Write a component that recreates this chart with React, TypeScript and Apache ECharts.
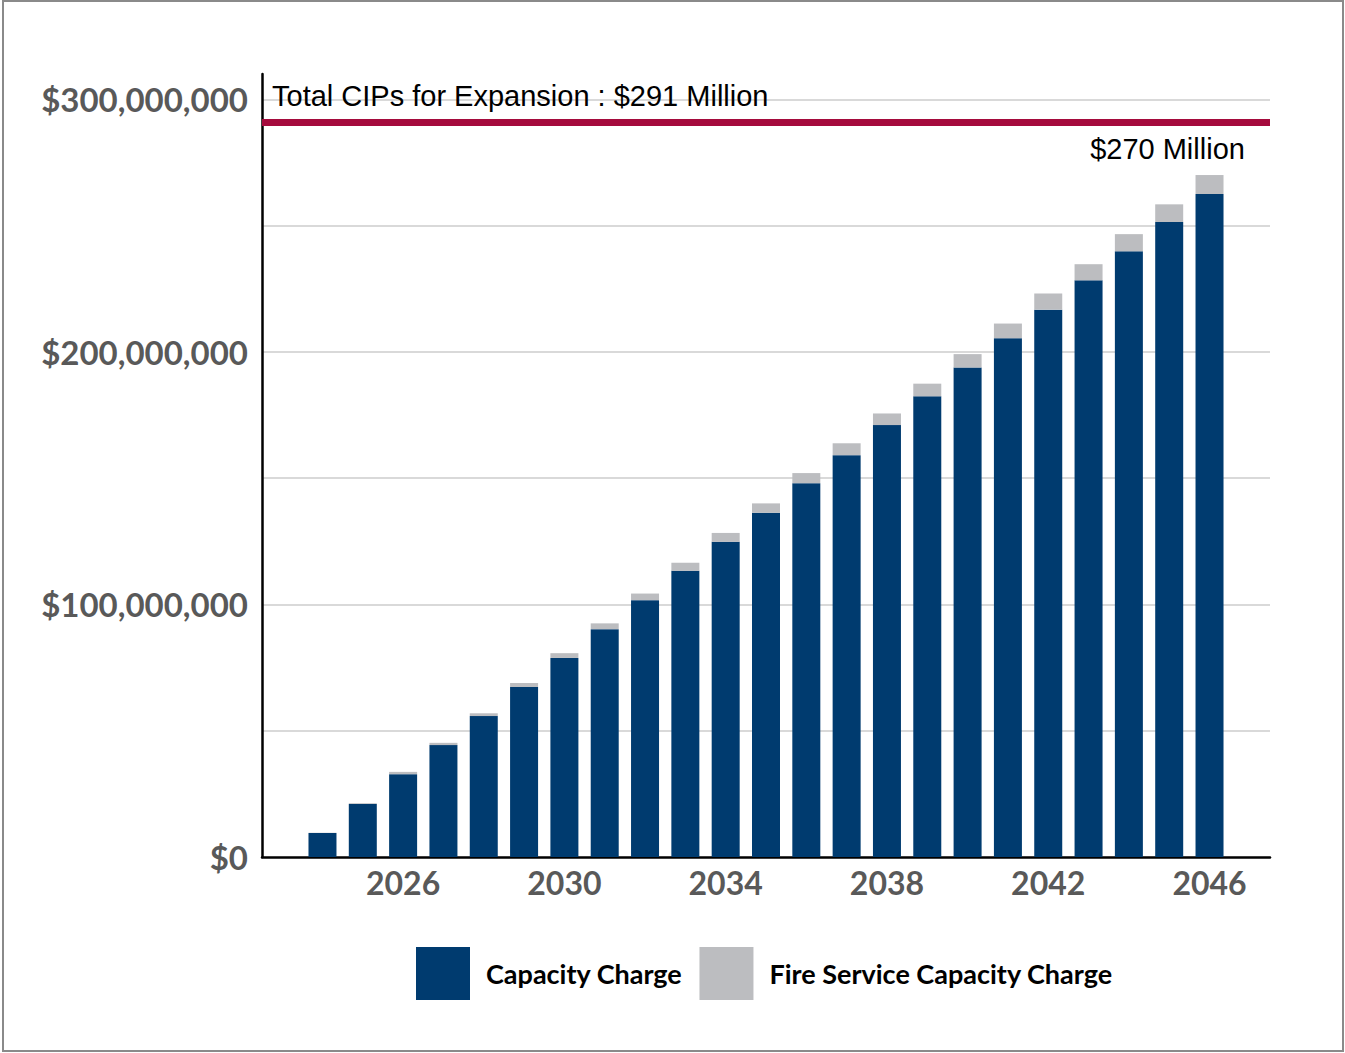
import React, { useEffect, useRef } from "react";
import * as echarts from "echarts";

const years = [
  "2023", "2024", "2025", "2026", "2027", "2028", "2029", "2030", "2031", "2032", "2033", "2034", "2035",
  "2036", "2037", "2038", "2039", "2040", "2041", "2042", "2043", "2044", "2045", "2046", "2047",
];
// values in millions of dollars
const capacityCharge = [
  null, 9.5, 21.0, 32.8, 44.3, 55.8, 67.3, 78.8, 90.2, 101.7, 113.3, 124.8, 136.3,
  148.0, 159.1, 171.0, 182.4, 193.8, 205.4, 216.7, 228.3, 239.8, 251.4, 262.5, null,
];
const fireServiceCharge = [
  null, 0.1, 0.3, 0.9, 0.9, 1.1, 1.6, 1.9, 2.3, 2.6, 3.2, 3.5, 3.7,
  4.0, 4.7, 4.6, 5.0, 5.3, 5.8, 6.4, 6.4, 6.8, 7.0, 7.5, null,
];
const totalCIPs = 291;
const totalCIPsLabel = "Total CIPs for Expansion : $291 Million";
const endLabel = "$270 Million";
const shownYears = ["2026", "2030", "2034", "2038", "2042", "2046"];

function fmtDollars(m: number) {
  const v = Math.round(m * 1e6);
  return "$" + v.toString().replace(/\B(?=(\d{3})+(?!\d))/g, ",");
}

export default function App() {
  const ref = useRef<HTMLDivElement>(null);
  useEffect(() => {
    document.body.style.margin = "0";
    const chart = echarts.init(ref.current!, null, { renderer: "svg" });
    const lastIdx = fireServiceCharge.length - 2;
    chart.setOption({
      animation: false,
      backgroundColor: "#ffffff",
      grid: { left: 262, right: 75, top: 74, bottom: 196, containLabel: false },
      legend: {
        left: 416,
        top: 947,
        padding: 0,
        itemWidth: 54,
        itemHeight: 53,
        itemGap: 17,
        icon: "rect",
        textStyle: {
          fontFamily: "Lato",
          fontWeight: "bold",
          fontSize: 27,
          color: "#000",
          padding: [0, 0, 0, 11],
        },
        data: ["Capacity Charge", "Fire Service Capacity Charge"],
      },
      xAxis: {
        type: "category",
        data: years,
        axisLine: { show: true, lineStyle: { color: "#000", width: 2.5 } },
        axisTick: { show: false },
        axisLabel: {
          interval: 0,
          formatter: (v: string) => (shownYears.includes(v) ? v : ""),
          fontFamily: "Lato",
          fontWeight: "bold",
          fontSize: 32,
          color: "#595959",
          margin: 9,
        },
        splitLine: { show: false },
      },
      yAxis: {
        type: "value",
        min: 0,
        max: 310,
        interval: 50,
        axisLine: { show: true, lineStyle: { color: "#000", width: 2.5 } },
        axisTick: { show: false },
        axisLabel: {
          formatter: (v: number) => (v % 100 === 0 ? fmtDollars(v) : ""),
          fontFamily: "Lato",
          fontWeight: "bold",
          fontSize: 33,
          color: "#595959",
          margin: 14,
        },
        splitLine: {
          show: true,
          showMinLine: false,
          showMaxLine: false,
          lineStyle: { color: "#d9d9d9", width: 2 },
        },
      },
      series: [
        {
          name: "Capacity Charge",
          type: "bar",
          stack: "total",
          barWidth: 28,
          itemStyle: { color: "#003b6f" },
          data: capacityCharge,
          markLine: {
            silent: true,
            symbol: ["none", "none"],
            z: 10,
            data: [
              {
                yAxis: totalCIPs,
                lineStyle: { color: "#a50b3d", width: 7, type: "solid" },
                label: {
                  show: true,
                  position: "insideStartTop",
                  formatter: totalCIPsLabel,
                  fontFamily: "Liberation Sans",
                  fontSize: 29,
                  color: "#000",
                  distance: [10, 11],
                },
              },
            ],
          },
        },
        {
          name: "Fire Service Capacity Charge",
          type: "bar",
          stack: "total",
          barWidth: 28,
          itemStyle: { color: "#bcbdc0" },
          data: fireServiceCharge.map((v, i) =>
            i === lastIdx
              ? {
                  value: v,
                  label: {
                    show: true,
                    position: "top",
                    formatter: endLabel,
                    offset: [-42, -7],
                    fontFamily: "Liberation Sans",
                    fontSize: 29,
                    color: "#000",
                  },
                }
              : v
          ),
        },
      ],
    });
    return () => chart.dispose();
  }, []);
  return (
    <div style={{ position: "relative", width: 1345, height: 1053 }}>
      <div ref={ref} style={{ position: "absolute", left: 0, top: 0, width: 1345, height: 1053 }} />
      <div
        style={{
          position: "absolute",
          left: 2,
          top: 0,
          width: 1338,
          height: 1048,
          border: "2px solid #8a8a8a",
          pointerEvents: "none",
        }}
      />
    </div>
  );
}
